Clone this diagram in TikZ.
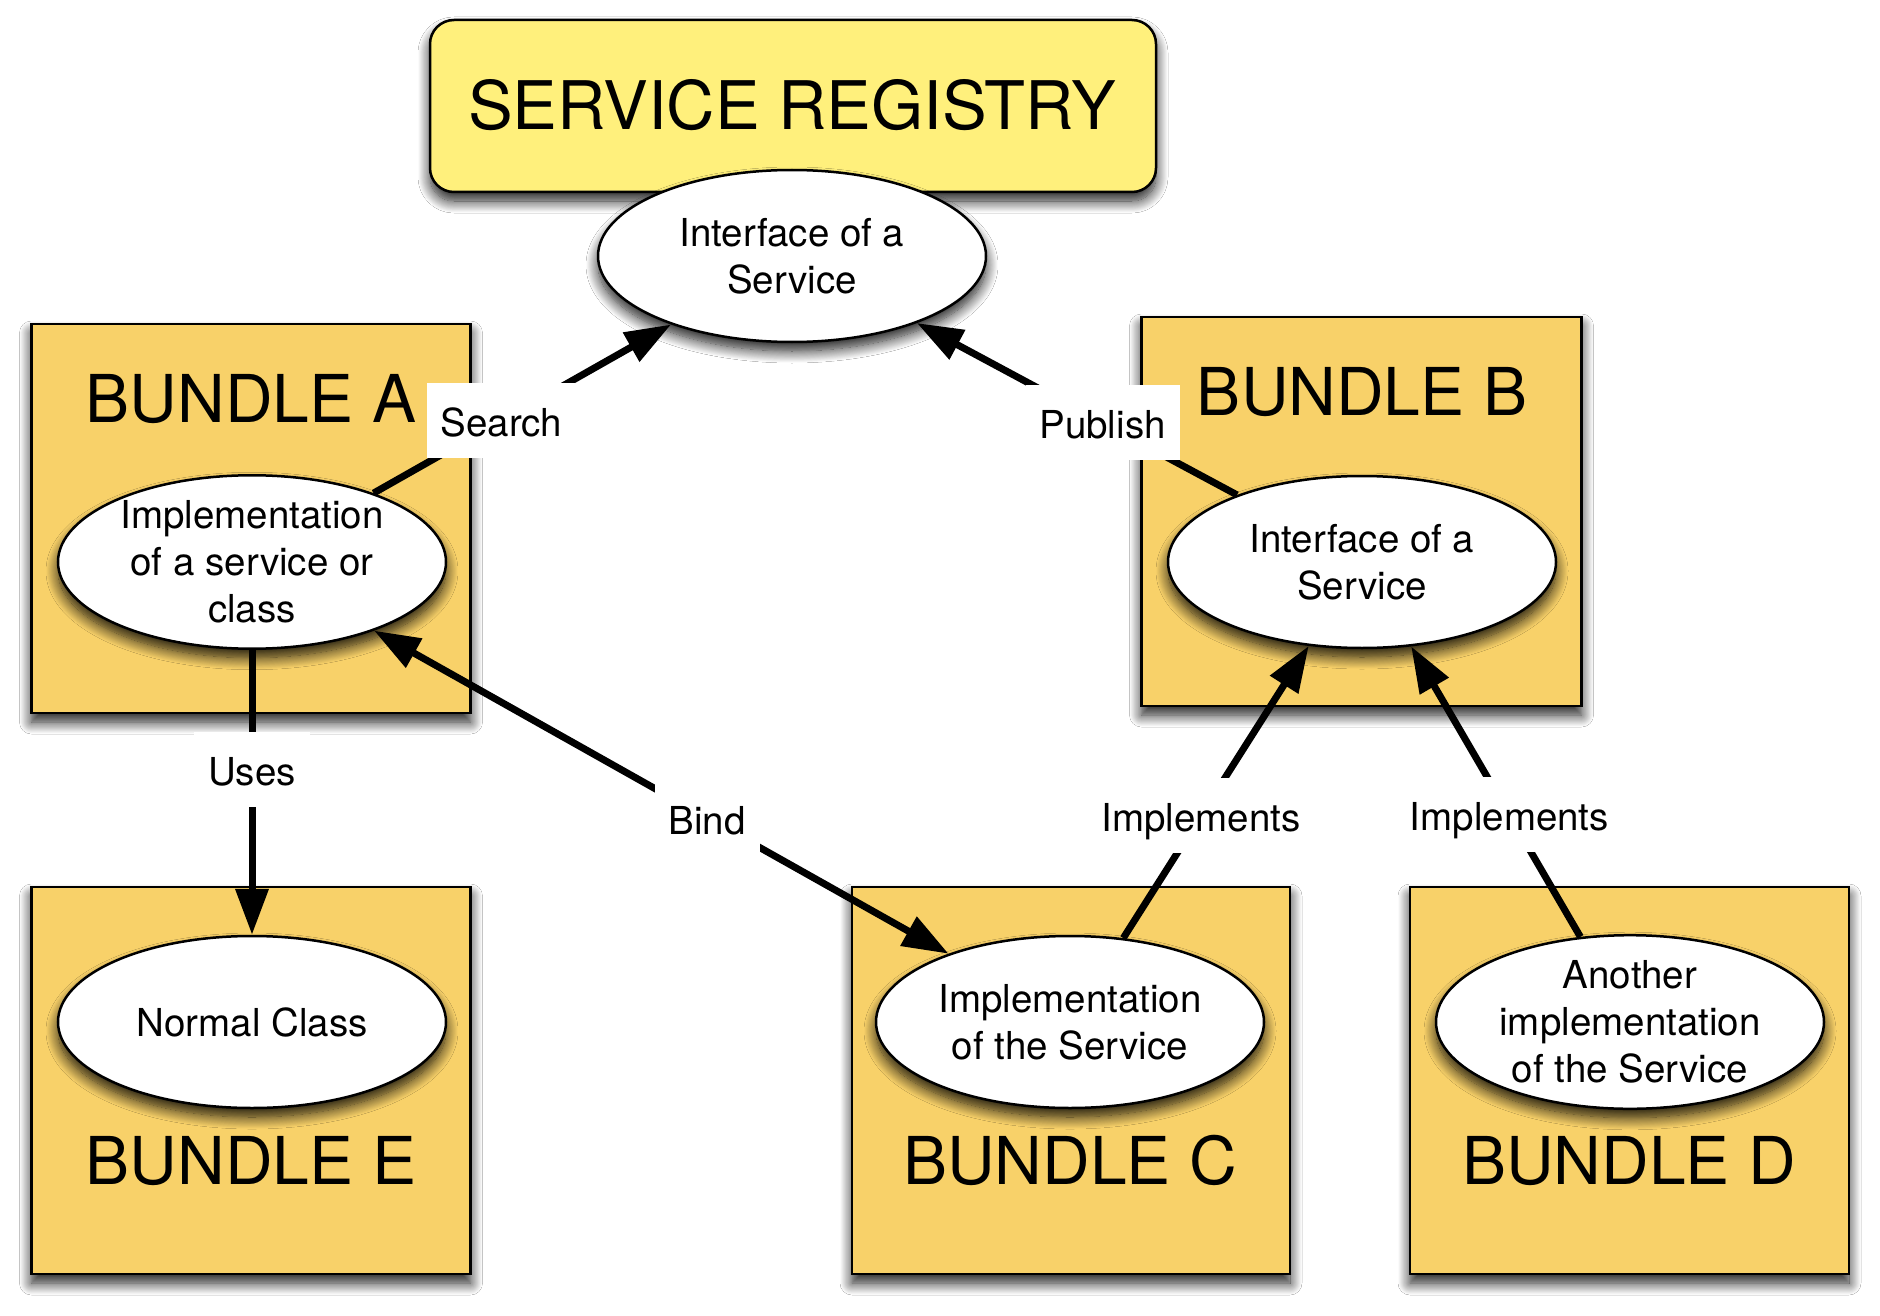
\documentclass[tikz,border=0pt]{standalone}
\usepackage{fontspec}
\setmainfont{TeX Gyre Heros}
\usetikzlibrary{arrows.meta,shapes.geometric,shadows.blur}
\definecolor{bundlefill}{RGB}{248,209,105}
\definecolor{regfill}{RGB}{255,240,124}
\tikzset{
  shad/.style={blur shadow={shadow xshift=0pt,shadow yshift=-9pt,shadow blur radius=12pt,shadow blur steps=16,shadow opacity=90}},
  bundle/.style={draw=black,line width=2.5pt,fill=bundlefill,rectangle,inner sep=0pt,shad},
  ell/.style={draw=black,line width=2.5pt,fill=white,ellipse,minimum width=388pt,minimum height=172pt,inner sep=0pt,align=center,font=\fontsize{38.5}{47}\selectfont,shad},
  btitle/.style={font=\fontsize{66}{70}\selectfont,inner sep=0pt,anchor=base},
  lbl/.style={fill=white,inner xsep=14pt,inner ysep=0pt,text height=32pt,text depth=0pt,minimum height=75pt,font=\fontsize{38.5}{47}\selectfont},
  conn/.style={line width=7pt},
  arr/.style={-{Triangle[length=46pt,width=32pt]}},
  darr/.style={{Triangle[length=46pt,width=32pt]}-{Triangle[length=46pt,width=32pt]}},
}
\begin{document}
\begin{tikzpicture}[x=1pt,y=-1pt]
\fill[white] (0,0) rectangle (1880,1316);
\useasboundingbox (0,0) rectangle (1880,1316);
% registry
\node[bundle,fill=regfill,rounded corners=24pt,minimum width=726pt,minimum height=172pt] (reg) at (793,106) {};
\node[btitle,font=\fontsize{67}{70}\selectfont] (regt) at (792,130) {SERVICE REGISTRY};
% bundles
\node[bundle,minimum width=439pt,minimum height=389pt] (bA) at (251,518.5) {};
\node[bundle,minimum width=440pt,minimum height=389pt] (bB) at (1361.5,511.5) {};
\node[bundle,minimum width=439pt,minimum height=387pt] (bE) at (251,1080.5) {};
\node[bundle,minimum width=438pt,minimum height=387pt] (bC) at (1071,1080.5) {};
\node[bundle,minimum width=439pt,minimum height=387pt] (bD) at (1629.5,1080.5) {};
\node[btitle] (tA) at (251,422) {BUNDLE A};
\node[btitle] (tB) at (1362,415) {BUNDLE B};
\node[btitle] (tE) at (251,1184) {BUNDLE E};
\node[btitle] (tC) at (1070,1184) {BUNDLE C};
\node[btitle] (tD) at (1629,1184) {BUNDLE D};
% ellipses
\node[ell] (eT) at (792,256) {Interface of a\\Service};
\node[ell] (eA) at (252,562) {Implementation\\of a service or\\class};
\node[ell] (eB) at (1362,562) {Interface of a\\Service};
\node[ell] (eE) at (252,1022) {Normal Class};
\node[ell] (eC) at (1070,1022) {Implementation\\of the Service};
\node[ell] (eD) at (1630,1022) {Another\\implementation\\of the Service};
% connectors
\draw[conn,arr] (eA) -- node[lbl,pos=0.43] (lS) {Search} (eT);
\draw[conn,arr] (eB) -- node[lbl,pos=0.42] (lP) {Publish} (eT);
\draw[conn,arr] (eA) -- node[lbl,pos=0.42] (lU) {Uses} (eE);
\draw[conn,darr] (eA) -- node[lbl,pos=0.58] (lBd) {Bind} (eC);
\draw[conn,arr] (eC) -- node[lbl,pos=0.42] (lI1) {Implements} (eB);
\draw[conn,arr] (eD) -- node[lbl,pos=0.42] (lI2) {Implements} (eB);
\end{tikzpicture}
\end{document}
